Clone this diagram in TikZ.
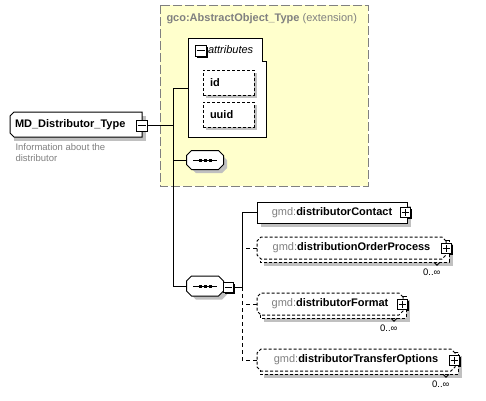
\documentclass[tikz,border=0pt]{standalone}
\usepackage{fontspec}
\setmainfont{Liberation Sans}
\usetikzlibrary{shapes.misc}
\definecolor{xsgray}{RGB}{128,128,128}
\definecolor{shadowgray}{RGB}{192,192,192}
\definecolor{extyellow}{RGB}{255,255,204}
\begin{document}
\begin{tikzpicture}[x=1pt,y=-1pt,
  font=\fontsize{11}{13}\selectfont,
  line width=1pt,
  boxdash/.style={dash pattern=on 3pt off 2pt},
  condash/.style={dash pattern=on 4pt off 3pt},
  shadowfill/.style={fill=shadowgray,draw=none},
  signshadow/.style={fill=black,draw=none},
  elem/.style={draw=black,fill=white,inner sep=0pt},
  optelem/.style={chamfered rectangle,chamfered rectangle xsep=2pt,chamfered rectangle ysep=2pt,
    draw=black,fill=white,boxdash,inner sep=0pt},
  seqnode/.style={rectangle,inner sep=0pt,minimum width=36pt,minimum height=18pt},
  signbox/.style={draw=black,fill=white,line width=1pt,minimum size=10pt,inner sep=0pt},
  mult/.style={font=\fontsize{9.5}{11}\selectfont,inner sep=0pt},
  attrbox/.style={draw=black,fill=white,boxdash,inner sep=0pt,minimum width=51pt,minimum height=25pt,font=\fontsize{11}{13}\selectfont\bfseries},
  signline/.style={line width=1pt}
]
\useasboundingbox (0,0) rectangle (486,400);

% shadows outside the extension area
\fill[shadowfill] (14,116) rectangle (146,141);
\fill[shadowfill] (261,206) rectangle (411,227);
\fill[shadowfill] (264,244) rectangle (453,266);
\fill[shadowfill] (264,300) rectangle (410,322);
\fill[shadowfill] (264,356) rectangle (462,378);
\fill[shadowfill] (196,280.5) -- (222,280.5) -- (227,285.5) -- (227,294.5) -- (222,299.5) -- (196,299.5) -- (191,294.5) -- (191,285.5) -- cycle;

% extension background
\draw[draw=xsgray,fill=extyellow,dash pattern=on 9pt off 3pt] (160,5) rectangle (368,186);
\node[anchor=west,text=xsgray,inner sep=0pt] (exttitle) at (166,19) {\textbf{gco:AbstractObject\_Type} (extension)};
\fill[shadowfill] (196,155) -- (222,155) -- (227,160) -- (227,168) -- (222,173) -- (196,173) -- (191,168) -- (191,160) -- cycle;

% attributes group
\draw[fill=white] (188,38) -- (262,38) -- (262,61) -- (266,61) -- (266,137) -- (188,137) -- cycle;
\coordinate (attrw) at (188,88);
\fill[shadowfill] (206,73) rectangle (257,98);
\fill[shadowfill] (206,105) rectangle (257,130);

% sign box shadows
\fill[signshadow] (196.5,46.5) rectangle (207.5,57.5);
\fill[signshadow] (137,121) rectangle (148,132);
\fill[signshadow] (224.5,283.5) rectangle (234.5,293.5);
\fill[signshadow] (401.5,209) rectangle (411.5,219);
\fill[signshadow] (442.5,244.5) rectangle (452.5,254.5);
\fill[signshadow] (398.5,300.5) rectangle (408.5,310.5);
\fill[signshadow] (450.5,356.5) rectangle (460.5,366.5);

\node[signbox,minimum size=11pt] (attrminus) at (200.5,50.5) {};
\node[anchor=west,inner sep=0pt,font=\fontsize{11}{13}\selectfont\itshape] (attrlabel) at (207.5,50) {attributes};
\node[attrbox] (id) at (228.5,82.5) {\makebox[37pt][l]{id}};
\node[attrbox] (uuid) at (228.5,114.5) {\makebox[37pt][l]{uuid}};

% main type
\draw[fill=white] (14,112) -- (142,112) -- (142,137) -- (14,137) -- (10,133) -- (10,116) -- cycle;
\node[inner sep=0pt,minimum width=132pt,minimum height=25pt,
  font=\fontsize{11}{13}\selectfont\bfseries] (md) at (76,124.5) {\makebox[122pt][l]{MD\_Distributor\_Type}};
\node[signbox,minimum size=11pt] (mdminus) at (141.5,125.5) {};
\node[anchor=north west,align=left,text=xsgray,inner sep=0pt,font=\fontsize{9.5}{11.5}\selectfont] (mddoc) at (15,143) {Information about the\\distributor};

% sequences
\node[seqnode] (seq1) at (205,160) {};
\node[seqnode,minimum height=19pt] (seq2) at (205,286) {};
\foreach \s in {seq1,seq2}{
  \draw[fill=white] ([xshift=5pt]\s.north west) -- ([xshift=-5pt]\s.north east) -- ([yshift=-5pt]\s.north east)
    -- ([yshift=5pt]\s.south east) -- ([xshift=-5pt]\s.south east) -- ([xshift=5pt]\s.south west)
    -- ([yshift=5pt]\s.south west) -- ([yshift=-5pt]\s.north west) -- cycle;
  \draw ([xshift=-12pt]\s.center) -- ([xshift=12pt]\s.center);
  \foreach \dx in {-5,0,5}{\fill ([shift={(\dx-1.5,-1.5)}]\s.center) rectangle ++(3,3);}
}
\node[signbox] (seq2minus) at (228,287) {};

% elements
\node[elem,minimum width=150pt,minimum height=21pt] (contact) at (332,212.5) {{\color{xsgray}gmd:}\textbf{distributorContact}};
\node[signbox] (contactplus) at (405,212.5) {};

\node[optelem,minimum width=189pt,minimum height=22pt] (orderB) at (354.5,251) {};
\node[optelem,minimum width=189pt,minimum height=22pt] (order) at (351.5,248) {{\color{xsgray}gmd:}\textbf{distributionOrderProcess}};
\node[signbox] (orderplus) at (446,248) {};
\node[mult,anchor=north east] (ordermult) at ([xshift=-8pt,yshift=-6pt]orderB.south east) {0..∞};
\draw[line width=0.8pt] ([xshift=-15pt]orderB.south east) -- ++(3,3) -- ++(3,-3);

\node[optelem,minimum width=146pt,minimum height=22pt] (formatB) at (333,307) {};
\node[optelem,minimum width=146pt,minimum height=22pt] (format) at (330,304) {{\color{xsgray}gmd:}\textbf{distributorFormat}};
\node[signbox] (formatplus) at (402,304) {};
\node[mult,anchor=north east] (formatmult) at ([xshift=-8pt,yshift=-6pt]formatB.south east) {0..∞};
\draw[line width=0.8pt] ([xshift=-15pt]formatB.south east) -- ++(3,3) -- ++(3,-3);

\node[optelem,minimum width=198pt,minimum height=22pt] (transferB) at (359,363) {};
\node[optelem,minimum width=198pt,minimum height=22pt] (transfer) at (356,360) {{\color{xsgray}gmd:}\textbf{distributorTransferOptions}};
\node[signbox] (transferplus) at (454,360) {};
\node[mult,anchor=north east] (transfermult) at ([xshift=-8pt,yshift=-6pt]transferB.south east) {0..∞};
\draw[line width=0.8pt] ([xshift=-15pt]transferB.south east) -- ++(3,3) -- ++(3,-3);

% minus and plus signs
\foreach \b in {attrminus,mdminus,seq2minus,contactplus,orderplus,formatplus,transferplus}{
  \draw[signline] ([xshift=2pt]\b.west) -- ([xshift=-2pt]\b.east);
}
\foreach \b in {contactplus,orderplus,formatplus,transferplus}{
  \draw[signline] ([yshift=-2pt]\b.north) -- ([yshift=2pt]\b.south);
}

% connectors
\coordinate (trunk) at (173,0);
\coordinate (branch) at (242,0);
\draw (mdminus.east) -- (mdminus.east -| trunk);
\draw (attrw) -- (attrw -| trunk) -- (seq2.west -| trunk) -- (seq2.west);
\draw (seq1.west) -- (seq1.west -| trunk);
\draw (seq2minus.east) -- (seq2minus.east -| branch);
\draw (contact.west) -- (contact.west -| branch) -- (seq2minus.east -| branch);
\draw[condash] (seq2minus.east -| branch) -- (transfer.west -| branch) -- (transfer.west);
\draw[condash] (order.west) -- (order.west -| branch);
\draw[condash] (format.west) -- (format.west -| branch);
\end{tikzpicture}
\end{document}
